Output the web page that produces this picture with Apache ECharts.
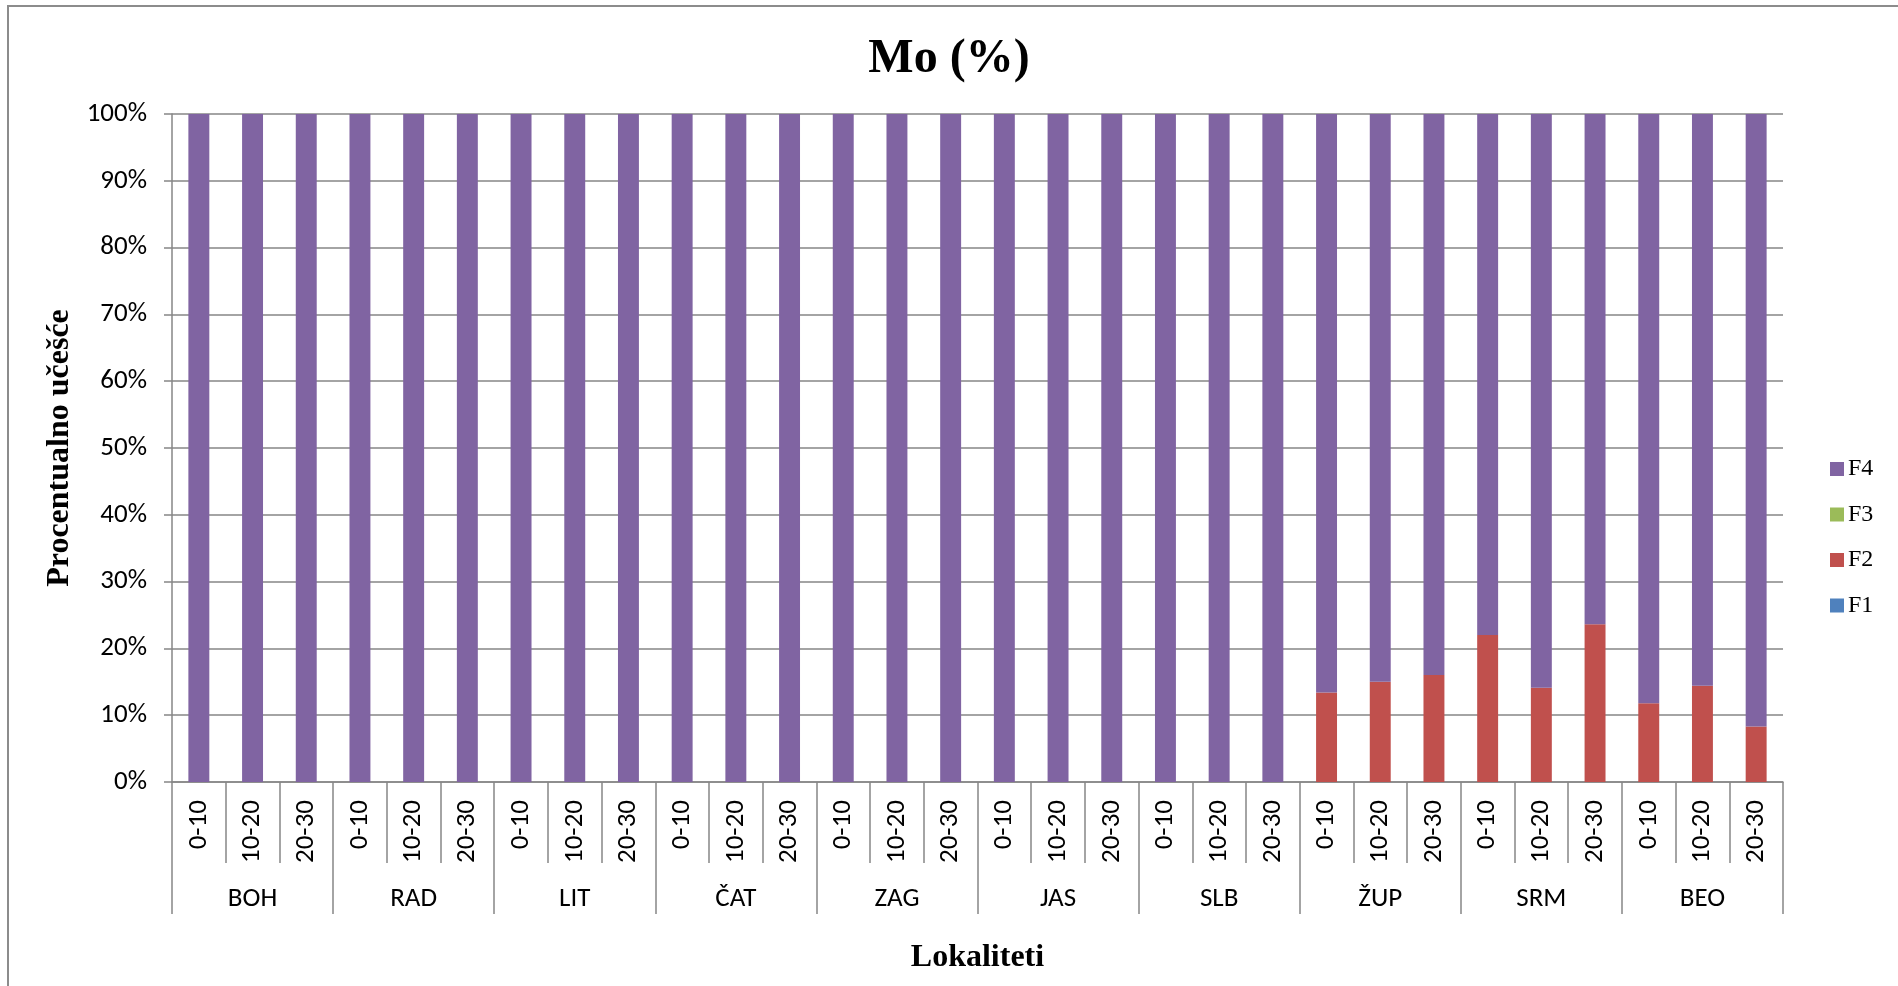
<!DOCTYPE html>
<html>
<head>
<meta charset="utf-8">
<script src="https://cdn.jsdelivr.net/npm/echarts@6/dist/echarts.min.js"></script>
<style>
html,body{margin:0;padding:0;background:#fff;}
#chart{width:1898px;height:986px;}
</style>
</head>
<body>
<div id="chart"></div>
<script>
const sites = ['BOH','RAD','LIT','ČAT','ZAG','JAS','SLB','ŽUP','SRM','BEO'];
const depths = ['0-10','10-20','20-30'];
const yTicks = [0,10,20,30,40,50,60,70,80,90,100];
const F1 = [0,0,0, 0,0,0, 0,0,0, 0,0,0, 0,0,0, 0,0,0, 0,0,0, 0,0,0, 0,0,0, 0,0,0];
const F2 = [0,0,0, 0,0,0, 0,0,0, 0,0,0, 0,0,0, 0,0,0, 0,0,0, 13.4,15.0,16.0, 22.0,14.1,23.6, 11.8,14.4,8.3];
const F3 = [0,0,0, 0,0,0, 0,0,0, 0,0,0, 0,0,0, 0,0,0, 0,0,0, 0,0,0, 0,0,0, 0,0,0];
const F4 = [100,100,100, 100,100,100, 100,100,100, 100,100,100, 100,100,100, 100,100,100, 100,100,100, 86.6,85.0,84.0, 78.0,85.9,76.4, 88.2,85.6,91.7];

const categories = [];
sites.forEach(s => depths.forEach(d => categories.push(d)));

const gray = '#868686';
const labelFont = 'Carlito, Lato, "Liberation Sans", sans-serif';
const serif = '"Liberation Serif", "Times New Roman", serif';

const chart = echarts.init(document.getElementById('chart'));
chart.setOption({
  animation: false,
  backgroundColor: '#fff',
  graphic: [{
    type: 'rect',
    shape: {x: 8, y: 6, width: 2000, height: 2000},
    style: {fill: 'none', stroke: '#8c8c8c', lineWidth: 2},
    silent: true
  }],
  title: {
    text: 'Mo (%)',
    left: 'center',
    top: 31,
    textStyle: {fontFamily: serif, fontWeight: 'bold', fontSize: 48, color: '#000'}
  },
  legend: {
    orient: 'vertical',
    left: 1825,
    top: 452,
    data: ['F4','F3','F2','F1'],
    icon: 'rect',
    itemWidth: 14,
    itemHeight: 14,
    itemGap: 21.5,
    textStyle: {fontFamily: serif, fontSize: 24, lineHeight: 24, color: '#000', padding: [0,0,0,-1]}
  },
  grid: {left: 172, right: 115, top: 114, bottom: 204, containLabel: false},
  xAxis: [{
    type: 'category',
    data: categories,
    position: 'bottom',
    axisLine: {show: true, lineStyle: {color: gray, width: 1.5}},
    axisTick: {show: true, interval: 0, length: 81, lineStyle: {color: gray, width: 1.5}},
    axisLabel: {interval: 0, rotate: 90, margin: 18, fontFamily: labelFont, fontSize: 27, color: '#000'}
  }, {
    type: 'category',
    data: sites,
    position: 'bottom',
    offset: 0,
    axisLine: {show: false},
    axisTick: {show: true, interval: 0, length: 132, lineStyle: {color: gray, width: 1.5}},
    axisLabel: {interval: 0, margin: 104, fontFamily: labelFont, fontSize: 27, color: '#000'},
    name: 'Lokaliteti',
    nameLocation: 'middle',
    nameGap: 160,
    nameTextStyle: {fontFamily: serif, fontWeight: 'bold', fontSize: 32, color: '#000'}
  }],
  yAxis: {
    type: 'value',
    min: yTicks[0],
    max: yTicks[yTicks.length - 1],
    interval: 10,
    axisLine: {show: true, lineStyle: {color: gray, width: 1.5}},
    axisTick: {show: true, length: 8, lineStyle: {color: gray, width: 1.5}},
    axisLabel: {formatter: '{value}%', margin: 25, fontFamily: labelFont, fontSize: 27, color: '#000'},
    splitLine: {show: true, lineStyle: {color: gray, width: 1.5}},
    name: 'Procentualno učešće',
    nameLocation: 'middle',
    nameGap: 93,
    nameTextStyle: {fontFamily: serif, fontWeight: 'bold', fontSize: 32, color: '#000'}
  },
  series: [
    {name: 'F1', type: 'bar', stack: 'total', xAxisIndex: 0, barWidth: '39%', data: F1, itemStyle: {color: '#4F81BD'}},
    {name: 'F2', type: 'bar', stack: 'total', xAxisIndex: 0, barWidth: '39%', data: F2, itemStyle: {color: '#C0504D'}},
    {name: 'F3', type: 'bar', stack: 'total', xAxisIndex: 0, barWidth: '39%', data: F3, itemStyle: {color: '#9BBB59'}},
    {name: 'F4', type: 'bar', stack: 'total', xAxisIndex: 0, barWidth: '39%', data: F4, itemStyle: {color: '#8064A2'}}
  ]
});
</script>
</body>
</html>
